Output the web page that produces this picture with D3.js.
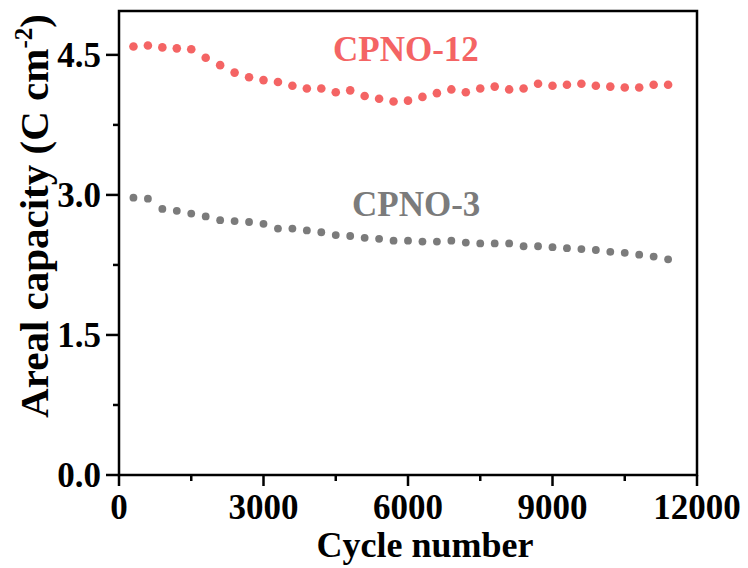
<!DOCTYPE html>
<html>
<head>
<meta charset="utf-8">
<script src="https://cdn.jsdelivr.net/npm/d3@7"></script>
<style>
  body { margin: 0; background: #fff; }
  svg { display: block; font-family: "Liberation Serif", "Times New Roman", serif; font-weight: bold; }
</style>
</head>
<body>
<svg width="748" height="568"></svg>
<script>
// cycle number for each point, 300 to 11400 step 300
const cycles = [300, 600, 900, 1200, 1500, 1800, 2100, 2400, 2700, 3000,
  3300, 3600, 3900, 4200, 4500, 4800, 5100, 5400, 5700, 6000,
  6300, 6600, 6900, 7200, 7500, 7800, 8100, 8400, 8700, 9000,
  9300, 9600, 9900, 10200, 10500, 10800, 11100, 11400];

const cpno12 = [4.59, 4.60, 4.58, 4.57, 4.56, 4.47, 4.39, 4.31, 4.26, 4.23,
  4.21, 4.17, 4.14, 4.14, 4.10, 4.12, 4.06, 4.03, 4.00, 4.01,
  4.05, 4.09, 4.13, 4.10, 4.14, 4.16, 4.13, 4.14, 4.19, 4.17,
  4.18, 4.19, 4.17, 4.16, 4.15, 4.15, 4.18, 4.18];

const cpno3 = [2.97, 2.96, 2.85, 2.83, 2.80, 2.77, 2.73, 2.72, 2.71, 2.69,
  2.64, 2.64, 2.62, 2.60, 2.57, 2.56, 2.54, 2.53, 2.51, 2.51,
  2.50, 2.50, 2.51, 2.49, 2.48, 2.48, 2.48, 2.45, 2.45, 2.44,
  2.43, 2.42, 2.41, 2.39, 2.38, 2.36, 2.34, 2.31];

const xTicks = [0, 3000, 6000, 9000, 12000];
const yTicks = [0, 1.5, 3.0, 4.5];

const svg = d3.select("svg");
const mLeft = 119, mRight = 697, mTop = 11, mBottom = 475;

const x = d3.scaleLinear().domain([0, 12000]).range([mLeft, mRight]);
const y = d3.scaleLinear().domain([0, 4.97]).range([mBottom, mTop]);

// frame
svg.append("rect")
  .attr("x", mLeft).attr("y", mTop)
  .attr("width", mRight - mLeft).attr("height", mBottom - mTop)
  .attr("fill", "none").attr("stroke", "#000").attr("stroke-width", 2.5);

// x axis
const xAxis = svg.append("g").attr("transform", `translate(0,${mBottom})`);
xAxis.selectAll("line.minor")
  .data(d3.range(1500, 12000, 3000))
  .join("line")
  .attr("class", "minor")
  .attr("x1", d => x(d)).attr("x2", d => x(d))
  .attr("y1", 0).attr("y2", 6)
  .attr("stroke", "#000").attr("stroke-width", 2.5);
xAxis.selectAll("line.major")
  .data(xTicks)
  .join("line")
  .attr("class", "major")
  .attr("x1", d => x(d)).attr("x2", d => x(d))
  .attr("y1", 0).attr("y2", 11)
  .attr("stroke", "#000").attr("stroke-width", 2.5);
xAxis.selectAll("text")
  .data(xTicks)
  .join("text")
  .attr("x", d => x(d)).attr("y", 44)
  .attr("text-anchor", "middle")
  .attr("font-size", 35)
  .text(d => d);

// y axis
const yAxis = svg.append("g").attr("transform", `translate(${mLeft},0)`);
yAxis.selectAll("line.minor")
  .data([0.75, 2.25, 3.75])
  .join("line")
  .attr("class", "minor")
  .attr("y1", d => y(d)).attr("y2", d => y(d))
  .attr("x1", 0).attr("x2", -6)
  .attr("stroke", "#000").attr("stroke-width", 2.5);
yAxis.selectAll("line.major")
  .data(yTicks)
  .join("line")
  .attr("class", "major")
  .attr("y1", d => y(d)).attr("y2", d => y(d))
  .attr("x1", 0).attr("x2", -13)
  .attr("stroke", "#000").attr("stroke-width", 2.5);
yAxis.selectAll("text")
  .data(yTicks)
  .join("text")
  .attr("x", -18).attr("y", d => y(d))
  .attr("dy", "0.34em")
  .attr("text-anchor", "end")
  .attr("font-size", 35)
  .text(d => d.toFixed(1));

// axis titles
svg.append("text")
  .attr("x", 425).attr("y", 557)
  .attr("text-anchor", "middle")
  .attr("font-size", 36)
  .text("Cycle number");

const yt = svg.append("text")
  .attr("transform", "translate(48,216) rotate(-90)")
  .attr("text-anchor", "middle")
  .attr("font-size", 41);
yt.append("tspan").text("Areal capacity (C cm");
yt.append("tspan").attr("font-size", 25).attr("dy", -16).text("-2");
yt.append("tspan").attr("dy", 16).text(")");

// series
svg.append("g").selectAll("circle")
  .data(cycles)
  .join("circle")
  .attr("cx", d => x(d))
  .attr("cy", (d, i) => y(cpno3[i]))
  .attr("r", 3.9)
  .attr("fill", "#7b7b7b");

svg.append("g").selectAll("circle")
  .data(cycles)
  .join("circle")
  .attr("cx", d => x(d))
  .attr("cy", (d, i) => y(cpno12[i]))
  .attr("r", 4.3)
  .attr("fill", "#f46464");

// series labels
svg.append("text")
  .attr("x", 333).attr("y", 61)
  .attr("font-size", 35)
  .attr("fill", "#f46464")
  .text("CPNO-12");

svg.append("text")
  .attr("x", 352).attr("y", 216)
  .attr("font-size", 35)
  .attr("fill", "#7b7b7b")
  .text("CPNO-3");
</script>
</body>
</html>
